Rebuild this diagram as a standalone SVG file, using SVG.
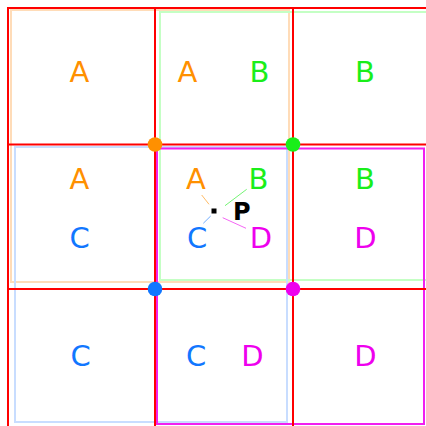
<svg xmlns="http://www.w3.org/2000/svg" width="426" height="426" viewBox="0 0 426 426">
<style>
.lbl{font-family:"DejaVu Sans","Liberation Sans",sans-serif;font-size:29px;text-anchor:middle}
.a{fill:#ff9000}.b{fill:#1aee1a}.c{fill:#1177ff}.d{fill:#ee00ee}
.reg{fill:none;stroke-width:2}
.grid line{stroke:#ff0000;stroke-width:2}
.conn line{stroke-width:1;opacity:0.6}
</style>
<rect width="426" height="426" fill="#ffffff"/>
<g id="regionA"><rect class="reg" x="11" y="10" width="278" height="272" stroke="#ffdcb8"/></g>
<g id="regionB"><rect class="reg" x="160" y="12" width="300" height="268" stroke="#c4ffc4"/></g>
<g id="regionC"><rect class="reg" x="15" y="147" width="272" height="275" stroke="#c8ddff"/></g>
<g id="regionD"><rect class="reg" x="157" y="148.5" width="267" height="275.5" stroke="#f020f0"/></g>
<g id="grid" class="grid">
<line x1="7" y1="8" x2="426" y2="8"/>
<line x1="8" y1="144.5" x2="426" y2="144.5"/>
<line x1="8" y1="289" x2="426" y2="289"/>
<line x1="8" y1="7" x2="8" y2="426"/>
<line x1="155" y1="7" x2="155" y2="426"/>
<line x1="293" y1="7" x2="293" y2="426"/>
</g>
<g id="labels">
<text class="lbl a" x="79.5" y="82">A</text>
<text class="lbl a" x="187.5" y="82">A</text>
<text class="lbl b" x="259.5" y="82">B</text>
<text class="lbl b" x="365" y="82">B</text>
<text class="lbl a" x="79.5" y="188.5">A</text>
<text class="lbl a" x="196" y="188.5">A</text>
<text class="lbl b" x="258.5" y="188.5">B</text>
<text class="lbl b" x="365" y="188.5">B</text>
<text class="lbl c" x="79.5" y="248">C</text>
<text class="lbl c" x="197" y="248">C</text>
<text class="lbl d" x="261" y="248">D</text>
<text class="lbl d" x="365.5" y="248">D</text>
<text class="lbl c" x="80.5" y="366">C</text>
<text class="lbl c" x="196" y="366">C</text>
<text class="lbl d" x="252.5" y="366">D</text>
<text class="lbl d" x="365.5" y="366">D</text>
</g>
<g id="corners">
<circle cx="155" cy="144.5" r="7.3" fill="#ff9000"/>
<circle cx="293" cy="144.5" r="7.3" fill="#1aee1a"/>
<circle cx="155" cy="289" r="7.3" fill="#1177ff"/>
<circle cx="293" cy="289" r="7.3" fill="#ee00ee"/>
</g>
<g id="connectors" class="conn">
<line x1="201.7" y1="195" x2="209" y2="204.3" stroke="#ff9000"/>
<line x1="225" y1="205.7" x2="246.7" y2="189.3" stroke="#1aee1a"/>
<line x1="203.3" y1="223.3" x2="210.7" y2="216" stroke="#1177ff"/>
<line x1="222.7" y1="217.7" x2="246" y2="228.3" stroke="#ee00ee"/>
</g>
<g id="pointP">
<rect x="211.5" y="208.5" width="5" height="5" fill="#000000"/>
<text x="233" y="220" font-family="'DejaVu Sans','Liberation Sans',sans-serif" font-size="24" font-weight="bold" fill="#000000">P</text>
</g>
</svg>
